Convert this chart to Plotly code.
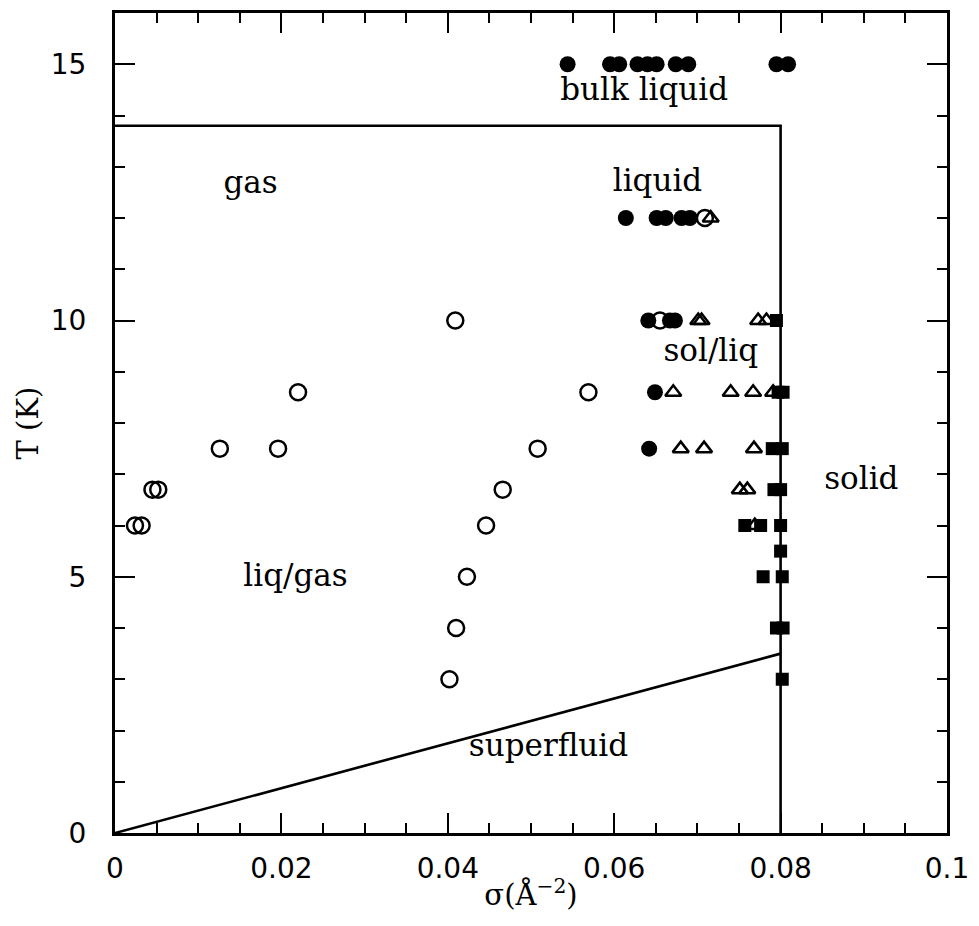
import plotly.graph_objects as go

# Phase diagram of a helium film: areal density sigma (1/A^2) vs temperature T (K)

# filled circles: liquid
liq_sigma = [0.0544, 0.0595, 0.0606, 0.0628, 0.0640, 0.0651, 0.0674, 0.0689, 0.0795, 0.0809,
             0.0614, 0.0651, 0.0662, 0.0681, 0.0691,
             0.0641, 0.0667, 0.0673,
             0.0649,
             0.0642]
liq_T = [15, 15, 15, 15, 15, 15, 15, 15, 15, 15,
         12, 12, 12, 12, 12,
         10, 10, 10,
         8.6,
         7.5]

# open circles: gas / liquid-gas coexistence
gas_sigma = [0.0024, 0.0032, 0.0045, 0.0052, 0.0126, 0.0196, 0.0220, 0.0409,
             0.0402, 0.0410, 0.0423, 0.0446, 0.0466, 0.0508, 0.0569, 0.0655, 0.0709]
gas_T = [6, 6, 6.7, 6.7, 7.5, 7.5, 8.6, 10,
         3, 4, 5, 6, 6.7, 7.5, 8.6, 10, 12]

# open triangles: solid/liquid coexistence
coex_sigma = [0.0716, 0.0701, 0.0705, 0.0773, 0.0783, 0.0671, 0.0740, 0.0767, 0.0791,
              0.0680, 0.0708, 0.0768, 0.0751, 0.0760, 0.0769]
coex_T = [12, 10, 10, 10, 10, 8.6, 8.6, 8.6, 8.6,
          7.5, 7.5, 7.5, 6.7, 6.7, 6]

# filled squares: solid
sol_sigma = [0.0795, 0.0797, 0.0803, 0.0790, 0.0802, 0.0792, 0.0800, 0.0757, 0.0776, 0.0800,
             0.0800, 0.0779, 0.0802, 0.0795, 0.0803, 0.0802]
sol_T = [10, 8.6, 8.6, 7.5, 7.5, 6.7, 6.7, 6, 6, 6,
         5.5, 5, 5, 4, 4, 3]

# phase boundaries
box_sigma = [0.0, 0.080, 0.080]
box_T = [13.8, 13.8, 0.0]
sf_sigma = [0.0, 0.080]
sf_T = [0.0, 3.5]

# region labels
lab_text = ["bulk liquid", "gas", "liquid", "sol/liq", "solid", "liq/gas", "superfluid"]
lab_sigma = [0.0636, 0.0163, 0.0652, 0.0716, 0.0897, 0.0217, 0.0521]
lab_T = [14.46, 12.64, 12.67, 9.36, 6.86, 4.97, 1.66]

x_ticks = [0, 0.02, 0.04, 0.06, 0.08, 0.1]
x_ticktext = ["0", "0.02", "0.04", "0.06", "0.08", "0.1"]
y_ticks = [0, 5, 10, 15]
y_ticktext = ["0", "5", "10", "15"]

fig = go.Figure()

line_style = dict(color="black", width=2.6)
fig.add_trace(go.Scatter(x=box_sigma, y=box_T, mode="lines", line=line_style))
fig.add_trace(go.Scatter(x=sf_sigma, y=sf_T, mode="lines", line=line_style))

fig.add_trace(go.Scatter(x=gas_sigma, y=gas_T, mode="markers",
                         marker=dict(symbol="circle-open", size=16, color="black",
                                     line=dict(width=2.5, color="black"))))
fig.add_trace(go.Scatter(x=coex_sigma, y=coex_T, mode="markers",
                         marker=dict(symbol="triangle-up-open", size=14, color="black",
                                     line=dict(width=2.5, color="black"))))
fig.add_trace(go.Scatter(x=liq_sigma, y=liq_T, mode="markers",
                         marker=dict(symbol="circle", size=16, color="black",
                                     line=dict(width=0))))
fig.add_trace(go.Scatter(x=sol_sigma, y=sol_T, mode="markers",
                         marker=dict(symbol="square", size=13, color="black",
                                     line=dict(width=0))))

fig.add_trace(go.Scatter(x=lab_sigma, y=lab_T, mode="text", text=lab_text,
                         textposition="middle center",
                         textfont=dict(family="DejaVu Serif", size=31, color="black")))

axis_common = dict(
    showline=True, linecolor="black", linewidth=3, mirror="ticks",
    ticks="inside", tickcolor="black", tickwidth=2.2,
    showgrid=False, zeroline=False,
    tickfont=dict(family="DejaVu Sans", size=28, color="black"),
)

fig.update_xaxes(
    range=[0, 0.1], tickvals=x_ticks, ticktext=x_ticktext, ticklen=20,
    minor=dict(dtick=0.005, ticks="inside", ticklen=10, tickcolor="black", tickwidth=2.2),
    title=dict(text="σ(Å<sup>−2</sup>)", standoff=2,
               font=dict(family="DejaVu Serif", size=29, color="black")),
    ticklabelstandoff=8,
    **axis_common,
)
fig.update_yaxes(
    range=[0, 16], tickvals=y_ticks, ticktext=y_ticktext, ticklen=20,
    minor=dict(dtick=1, ticks="inside", ticklen=10, tickcolor="black", tickwidth=2.2),
    title=dict(text="T (K)", standoff=4,
               font=dict(family="DejaVu Serif", size=29, color="black")),
    ticklabelstandoff=20,
    **axis_common,
)

fig.update_layout(
    width=979, height=926,
    margin=dict(l=115, r=30, t=10, b=93),
    paper_bgcolor="white", plot_bgcolor="white",
    showlegend=False,
)

fig.write_html("out.html")
